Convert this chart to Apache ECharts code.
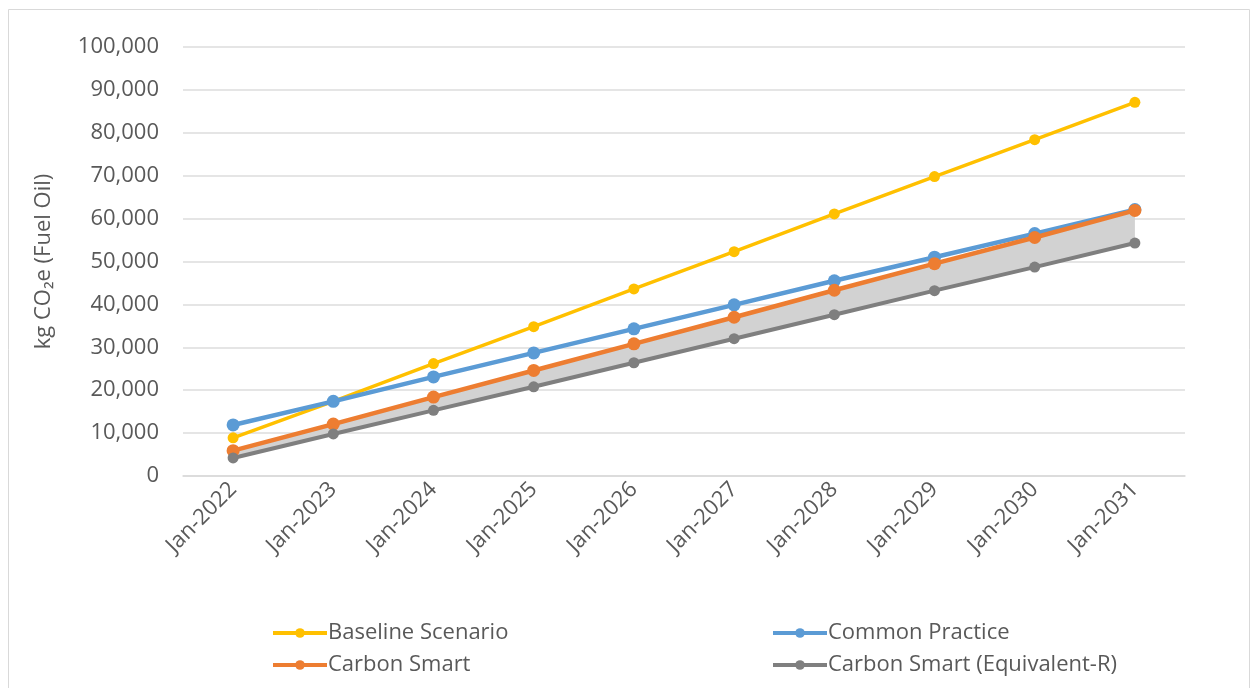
<!DOCTYPE html>
<html>
<head>
<meta charset="utf-8">
<script src="https://cdn.jsdelivr.net/npm/echarts@6/dist/echarts.min.js"></script>
<style>
html,body{margin:0;padding:0;background:#fff;}
#chart{width:1252px;height:688px;}
</style>
</head>
<body>
<div id="chart"></div>
<script>
var categories = ['Jan-2022','Jan-2023','Jan-2024','Jan-2025','Jan-2026','Jan-2027','Jan-2028','Jan-2029','Jan-2030','Jan-2031'];
var baseline = [8900, 17400, 26200, 34800, 43600, 52300, 61100, 69800, 78400, 87100];
var commonPractice = [11900, 17400, 23100, 28700, 34300, 39900, 45500, 51000, 56500, 62100];
var carbonSmart = [5900, 12100, 18400, 24600, 30800, 37000, 43300, 49500, 55600, 61900];
var carbonSmartR = [4200, 9800, 15300, 20800, 26400, 32000, 37600, 43200, 48700, 54300];
var yTicks = {min: 0, max: 100000, interval: 10000};

var gap = carbonSmart.map(function(v, i){ return v - carbonSmartR[i]; });
var FONT = 'Open Sans';
var TXT = '#595959';

var legendBase = {
  orient: 'vertical', itemGap: 10, top: 617,
  itemWidth: 54, itemHeight: 12,
  lineStyle: {width: 4},
  textStyle: {fontFamily: FONT, fontSize: 22, color: TXT, padding: [0,0,0,-4]}
};

var chart = echarts.init(document.getElementById('chart'));
chart.setOption({
  animation: false,
  backgroundColor: '#fff',
  textStyle: {fontFamily: FONT},
  graphic: [{
    type: 'rect', shape: {x: 8.5, y: 9.5, width: 1241, height: 690},
    style: {fill: 'none', stroke: '#d9d9d9', lineWidth: 1}, silent: true
  }],
  grid: {left: 183, right: 67, top: 47, bottom: 212, containLabel: false},
  legend: [
    Object.assign({}, legendBase, {left: 266, data: ['Baseline Scenario', 'Carbon Smart']}),
    Object.assign({}, legendBase, {left: 766, data: ['Common Practice', 'Carbon Smart (Equivalent-R)']})
  ],
  xAxis: {
    type: 'category', data: categories, boundaryGap: true,
    axisLine: {show: true, lineStyle: {color: '#d9d9d9', width: 1.5}},
    axisTick: {show: false},
    axisLabel: {rotate: 45, fontFamily: FONT, fontSize: 22, color: TXT, margin: 10, interval: 0}
  },
  yAxis: {
    type: 'value', min: yTicks.min, max: yTicks.max, interval: yTicks.interval,
    name: 'kg CO\u2082e (Fuel Oil)', nameLocation: 'middle', nameGap: 128, nameRotate: 90,
    nameTextStyle: {fontFamily: FONT, fontSize: 22, color: TXT},
    axisLine: {show: false}, axisTick: {show: false},
    splitLine: {lineStyle: {color: '#dcdcdc', width: 1.5}},
    axisLabel: {fontFamily: FONT, fontSize: 22, color: TXT, margin: 24,
      formatter: function(v){ return v.toLocaleString('en-US'); }}
  },
  series: [{
    name: 'gapBase', type: 'line', data: carbonSmartR, stack: 'band',
    symbol: 'none', lineStyle: {opacity: 0}, silent: true, z: 1
  }, {
    name: 'gapFill', type: 'line', data: gap, stack: 'band',
    symbol: 'none', lineStyle: {opacity: 0}, areaStyle: {color: '#d2d2d2', opacity: 1}, silent: true, z: 1
  }, {
    name: 'Baseline Scenario', type: 'line', data: baseline,
    symbol: 'circle', symbolSize: 11, itemStyle: {color: '#FFC000'},
    lineStyle: {width: 3.5, color: '#FFC000'}, z: 2
  }, {
    name: 'Common Practice', type: 'line', data: commonPractice,
    symbol: 'circle', symbolSize: 13, itemStyle: {color: '#5B9BD5'},
    lineStyle: {width: 4.5, color: '#5B9BD5'}, z: 3
  }, {
    name: 'Carbon Smart', type: 'line', data: carbonSmart,
    symbol: 'circle', symbolSize: 13, itemStyle: {color: '#ED7D31'},
    lineStyle: {width: 4.5, color: '#ED7D31'}, z: 4
  }, {
    name: 'Carbon Smart (Equivalent-R)', type: 'line', data: carbonSmartR,
    symbol: 'circle', symbolSize: 11, itemStyle: {color: '#7F7F7F'},
    lineStyle: {width: 4, color: '#7F7F7F'}, z: 4
  }]
});
</script>
</body>
</html>
